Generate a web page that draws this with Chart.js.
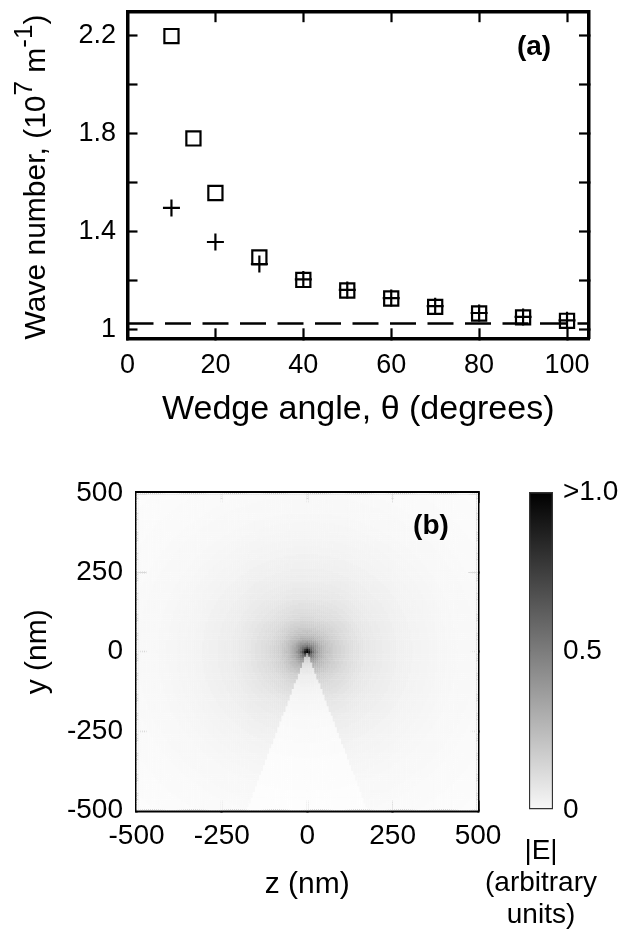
<!DOCTYPE html>
<html>
<head>
<meta charset="utf-8">
<script src="https://cdn.jsdelivr.net/npm/chart.js@4.4.1/dist/chart.umd.min.js"></script>
<style>
  html, body { margin: 0; padding: 0; background: #ffffff; }
  body { width: 627px; height: 932px; position: relative; overflow: hidden; }
  .box { position: absolute; }
</style>
</head>
<body>
<div class="box" style="left:0;top:0;width:627px;height:440px"><canvas id="chartA"></canvas></div>
<div class="box" style="left:0;top:470px;width:515px;height:462px"><canvas id="chartB"></canvas></div>
<div class="box" style="left:455px;top:470px;width:172px;height:462px"><canvas id="chartC"></canvas></div>
<script>
// ---------------- Panel (a): wave number vs wedge angle ----------------
const wedgeAngle        = [10, 15, 20, 30, 40, 50, 60, 70, 80, 90, 100];
const waveNumberSquares = [2.198, 1.780, 1.557, 1.294, 1.202, 1.159, 1.126, 1.092, 1.065, 1.049, 1.035];
const wedgeAnglePlus    = [10, 20, 30, 40, 50, 60, 70, 80, 90, 100];
const waveNumberPlus    = [1.496, 1.357, 1.267, 1.204, 1.161, 1.128, 1.095, 1.067, 1.051, 1.037];
const dashedAngle       = [0, 105];
const dashedLevel       = [1.024, 1.024];
const xTicksA           = [0, 20, 40, 60, 80, 100];
const yTicksA           = [1.0, 1.2, 1.4, 1.6, 1.8, 2.0, 2.2];
const yTickLabelsA      = ['1', '', '1.4', '', '1.8', '', '2.2'];
const xTitleA           = 'Wedge angle, \u03b8 (degrees)';
const yTitleAParts      = [['Wave number, (10', false], ['7', true], [' m', false], ['-1', true], [')', false]];
const panelLabelA       = '(a)';

// ---------------- Panel (b): |E| map around the wedge tip ----------------
const zTicksB           = [-500, -250, 0, 250, 500];
const yTicksB           = [-500, -250, 0, 250, 500];
// |E| read from the grey level, as a function of distance from the tip (nm)
const fieldRadiusNm     = [3, 6, 9, 12, 15, 18, 22, 26, 30, 35, 40, 46, 52, 60, 68, 77, 87, 98, 110, 123,
                           137, 152, 168, 185, 203, 222, 242, 263, 285, 308, 332, 357, 383, 410, 438, 467, 497, 528, 560, 595,
                           630, 670, 720];
const fieldOutside      = [1.0, 0.92, 0.8, 0.7, 0.62, 0.56, 0.5, 0.45, 0.41, 0.37, 0.34, 0.31, 0.28, 0.255, 0.23, 0.21, 0.19, 0.172, 0.156, 0.142,
                           0.129, 0.117, 0.106, 0.096, 0.087, 0.079, 0.072, 0.065, 0.059, 0.054, 0.049, 0.044, 0.040, 0.036, 0.032, 0.029, 0.026, 0.023, 0.020, 0.018,
                           0.016, 0.014, 0.012];
const fieldInside       = [0.6, 0.45, 0.36, 0.3, 0.26, 0.23, 0.2, 0.18, 0.16, 0.145, 0.13, 0.118, 0.106, 0.095, 0.085, 0.076, 0.068, 0.061, 0.055, 0.049,
                           0.044, 0.039, 0.035, 0.031, 0.028, 0.025, 0.022, 0.02, 0.018, 0.016, 0.014, 0.013, 0.012, 0.011, 0.01, 0.009, 0.008, 0.007, 0.006, 0.006,
                           0.005, 0.005, 0.004];
const wedgeHalfAngleDeg = 19.5;
const cellStepNm        = 6;
const colorbarRange     = [0, 1];
const colorbarTicks     = [0, 0.5, 1];
const colorbarLabels    = ['0', '0.5', '>1.0'];
const colorbarTitle     = ['|E|', '(arbitrary', 'units)'];
const panelLabelB       = '(b)';

const FONT = "'Liberation Sans', Arial, Helvetica, sans-serif";
Chart.defaults.font.family = FONT;
Chart.defaults.color = '#000';

function fixSize(w, h) {
  return function (s) {
    if (w !== null) s.width = w;
    if (h !== null) s.height = h;
    s.paddingTop = 0; s.paddingBottom = 0; s.paddingLeft = 0; s.paddingRight = 0;
  };
}
function setTicks(values) {
  return function (s) { s.ticks = values.map(v => ({ value: v })); };
}
function frameAxis(extra) {
  const base = {
    type: 'linear', z: 1,
    grid: { drawOnChartArea: false, tickLength: -10, tickWidth: 2.2, tickColor: '#000', color: '#000' },
    border: { display: true, width: 3.5, color: '#000' },
    ticks: { display: false }
  };
  return Object.assign(base, extra);
}

// ---------------- Chart A ----------------
const annotateA = {
  id: 'annotateA',
  afterDraw(chart) {
    const ctx = chart.ctx;
    ctx.save();
    ctx.fillStyle = '#000';
    ctx.font = 'bold 28px ' + FONT;
    ctx.textAlign = 'center';
    ctx.textBaseline = 'middle';
    ctx.fillText(panelLabelA, 534, 47.5);
    // rotated y title with superscripts
    ctx.translate(45, 177);
    ctx.rotate(-Math.PI / 2);
    ctx.textAlign = 'left';
    ctx.textBaseline = 'alphabetic';
    const widths = [];
    let total = 0;
    yTitleAParts.forEach(p => {
      ctx.font = (p[1] ? '26px ' : '30px ') + FONT;
      const w = ctx.measureText(p[0]).width;
      widths.push(w); total += w;
    });
    let x = -total / 2;
    yTitleAParts.forEach((p, i) => {
      ctx.font = (p[1] ? '26px ' : '30px ') + FONT;
      ctx.fillText(p[0], x, p[1] ? -13 : 0);
      x += widths[i];
    });
    ctx.restore();
  }
};

new Chart(document.getElementById('chartA'), {
  type: 'scatter',
  data: {
    datasets: [
      {
        label: 'dashed',
        data: dashedAngle.map((x, i) => ({ x: x, y: dashedLevel[i] })),
        showLine: true, borderColor: '#000', borderWidth: 2.5, borderDash: [26, 11.5],
        pointRadius: 0, fill: false
      },
      {
        label: 'squares',
        data: wedgeAngle.map((x, i) => ({ x: x, y: waveNumberSquares[i] })),
        pointStyle: 'rect', pointRadius: 10, borderWidth: 2.2,
        borderColor: '#000', backgroundColor: 'rgba(0,0,0,0)'
      },
      {
        label: 'plus',
        data: wedgeAnglePlus.map((x, i) => ({ x: x, y: waveNumberPlus[i] })),
        pointStyle: 'cross', pointRadius: 8.5, borderWidth: 2.2,
        borderColor: '#000', backgroundColor: '#000'
      }
    ]
  },
  options: {
    responsive: true, maintainAspectRatio: false, animation: false, events: [],
    layout: { padding: 0 },
    plugins: { legend: { display: false }, tooltip: { enabled: false } },
    scales: {
      x: frameAxis({
        position: 'bottom', min: 0, max: 105,
        afterBuildTicks: setTicks(xTicksA), afterFit: fixSize(null, 101.7),
        ticks: { display: true, font: { size: 27 }, color: '#000', padding: 21.5, autoSkip: false, maxRotation: 0, callback: v => String(v) },
        title: { display: true, text: xTitleA, font: { size: 34 }, color: '#000', padding: { top: 0, bottom: 9.6 } }
      }),
      x2: frameAxis({
        position: 'top', min: 0, max: 105,
        afterBuildTicks: setTicks(xTicksA), afterFit: fixSize(null, 9.3)
      }),
      y: frameAxis({
        position: 'left', min: 0.9636, max: 2.2955,
        afterBuildTicks: setTicks(yTicksA), afterFit: fixSize(127.5, null),
        ticks: { display: true, font: { size: 27 }, color: '#000', padding: 21.5, autoSkip: false, callback: (v, i) => yTickLabelsA[i] }
      }),
      y2: frameAxis({
        position: 'right', min: 0.9636, max: 2.2955,
        afterBuildTicks: setTicks(yTicksA), afterFit: fixSize(38, null)
      })
    }
  },
  plugins: [annotateA]
});

// ---------------- Chart B (field map) ----------------
const tanHalf = Math.tan(wedgeHalfAngleDeg * Math.PI / 180);
const heatCells = [];
const heatColors = [];
for (let z = -498; z <= 498; z += cellStepNm) {
  for (let y = -498; y <= 498; y += cellStepNm) {
    const r = Math.hypot(z, y);
    let k = fieldRadiusNm.findIndex(R => r <= R);
    if (k < 0) k = fieldRadiusNm.length - 1;
    const inside = y < 0 && Math.abs(z) <= -y * tanHalf;
    const v = inside ? fieldInside[k] : fieldOutside[k];
    const g = Math.round(255 * (1 - Math.min(v, 1)));
    heatCells.push({ x: z, y: y });
    heatColors.push('rgb(' + g + ',' + g + ',' + g + ')');
  }
}

const annotateB = {
  id: 'annotateB',
  afterDraw(chart) {
    const ctx = chart.ctx;
    ctx.save();
    ctx.fillStyle = '#000';
    ctx.font = 'bold 28px ' + FONT;
    ctx.textAlign = 'center';
    ctx.textBaseline = 'middle';
    ctx.fillText(panelLabelB, 431, 56.5);
    ctx.restore();
  }
};

new Chart(document.getElementById('chartB'), {
  type: 'scatter',
  data: {
    datasets: [{
      label: '|E|',
      data: heatCells,
      pointStyle: 'rect', pointRadius: 1.6, borderWidth: 0,
      backgroundColor: heatColors
    }]
  },
  options: {
    responsive: true, maintainAspectRatio: false, animation: false, events: [],
    layout: { padding: 0 },
    plugins: { legend: { display: false }, tooltip: { enabled: false } },
    scales: {
      x: frameAxis({
        position: 'bottom', min: -500, max: 500,
        afterBuildTicks: setTicks(zTicksB), afterFit: fixSize(null, 121.5),
        ticks: { display: true, font: { size: 28 }, color: '#000', padding: 19.4, autoSkip: false, maxRotation: 0, callback: v => String(v) },
        title: { display: true, text: 'z (nm)', font: { size: 30 }, color: '#000', padding: { top: 0, bottom: 29 } }
      }),
      x2: frameAxis({
        position: 'top', min: -500, max: 500,
        afterBuildTicks: setTicks(zTicksB), afterFit: fixSize(null, 23)
      }),
      y: frameAxis({
        position: 'left', min: -500, max: 500,
        afterBuildTicks: setTicks(yTicksB), afterFit: fixSize(136.5, null),
        ticks: { display: true, font: { size: 28 }, color: '#000', padding: 23.5, autoSkip: false, callback: v => String(v) },
        title: { display: true, text: 'y (nm)', font: { size: 30 }, color: '#000', padding: { top: 20, bottom: 0 } }
      }),
      y2: frameAxis({
        position: 'right', min: -500, max: 500,
        afterBuildTicks: setTicks(yTicksB), afterFit: fixSize(37, null)
      })
    }
  },
  plugins: [annotateB]
});

// ---------------- Chart C (colour bar) ----------------
new Chart(document.getElementById('chartC'), {
  type: 'bar',
  data: {
    labels: ['|E|'],
    datasets: [{
      data: [[colorbarRange[0], colorbarRange[1]]],
      backgroundColor: function (c) {
        const a = c.chart.chartArea;
        if (!a) return '#888';
        const g = c.chart.ctx.createLinearGradient(0, a.bottom, 0, a.top);
        g.addColorStop(0, '#f8f8f8');
        g.addColorStop(1, '#000000');
        return g;
      },
      borderColor: '#333', borderWidth: 1.5, borderSkipped: false,
      barPercentage: 1, categoryPercentage: 1
    }]
  },
  options: {
    responsive: true, maintainAspectRatio: false, animation: false, events: [],
    layout: { padding: { top: 22, left: 0, right: 0, bottom: 0 } },
    plugins: {
      legend: { display: false }, tooltip: { enabled: false },
      title: {
        display: true, position: 'bottom', text: colorbarTitle,
        font: { size: 28, lineHeight: 1.13, weight: 'normal' }, color: '#000',
        padding: { top: 25.9, bottom: 1.2 }
      }
    },
    scales: {
      x: { type: 'category', display: false },
      y: {
        type: 'linear', position: 'right', min: colorbarRange[0], max: colorbarRange[1], z: 1,
        afterBuildTicks: setTicks(colorbarTicks), afterFit: fixSize(74, null),
        ticks: { font: { size: 28 }, color: '#000', padding: 10, autoSkip: false, callback: (v, i) => colorbarLabels[i] },
        grid: {
          drawTicks: false, drawOnChartArea: true, lineWidth: 1.5,
          color: c => (c.tick && c.tick.value === 0.5) ? '#222' : 'rgba(0,0,0,0)'
        },
        border: { display: false, dash: [7, 9] }
      },
      yl: {
        type: 'linear', position: 'left', display: true,
        afterFit: fixSize(74, null),
        ticks: { display: false }, grid: { display: false }, border: { display: false }
      }
    }
  }
});
</script>
</body>
</html>
